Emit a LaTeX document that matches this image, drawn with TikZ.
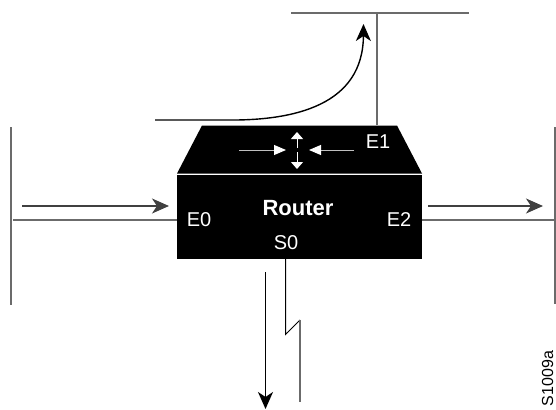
\documentclass[tikz,border=0pt]{standalone}
\usepackage{fontspec}
\setmainfont{Liberation Sans}
\usetikzlibrary{arrows.meta}
\definecolor{wire}{gray}{0.42}
\tikzset{
  wireline/.style={draw=wire,line width=1.5pt},
  flow/.style={draw=black!75,line width=1.4pt,-{Stealth[length=17pt,width=15pt,inset=5pt]}},
  whitearrow/.style={draw=white!75!black,line width=1pt,-{Triangle[length=12pt,width=10pt,color=white]}},
  whitetip/.style={draw=white,line width=1pt,-{Triangle[length=7pt,width=12pt,color=white]}},
  lab/.style={text=white,font=\fontsize{20}{21}\selectfont,inner sep=0pt},
}
\begin{document}
\begin{tikzpicture}[x=1pt,y=-1pt]
\useasboundingbox (0,0) rectangle (556,409);
% body
\node[fill=black,minimum width=245pt,minimum height=84pt,inner sep=0pt,anchor=north west] (router) at (177,175) {};
\fill[black] (202,125.5) -- (397,125.5) -- (422,173.5) -- (177,173.5) -- cycle;
% E1 bus
\coordinate (t1) at (291,13); \coordinate (t2) at (469,13);
\coordinate (t3) at (377,13); \coordinate (t4) at (377,125);
\draw[wireline] (t1) -- (t2);
\draw[wireline] (t3) -- (t4);
% E0 bus
\coordinate (l1) at (11,127); \coordinate (l2) at (11,305);
\coordinate (l3) at (13,220);
\draw[wireline] (l1) -- (l2);
\draw[wireline] (l3) -- (l3 -| router.west);
% E2 bus
\coordinate (r1) at (555,127); \coordinate (r2) at (555,304);
\coordinate (r3) at (555,220);
\draw[wireline] (r1) -- (r2);
\draw[wireline] (router.east |- r3) -- (r3);
% S0 serial line
\coordinate (s1) at (285.5,259); \coordinate (s2) at (285.5,334.5);
\coordinate (s3) at (300,320); \coordinate (s4) at (300,402);
\draw[black,line width=1pt] (s1) -- (s2) -- (s3);
\draw[wireline] (s3) -- (s4);
% flow arrows
\coordinate (a1) at (22,206); \coordinate (a2) at (169,206);
\coordinate (b1) at (428,206); \coordinate (b2) at (543,206);
\coordinate (c1) at (265.5,272); \coordinate (c2) at (265.5,409);
\draw[flow] (a1) -- (a2);
\draw[flow] (b1) -- (b2);
\draw[flow,draw=black] (c1) -- (c2);
\coordinate (d1) at (155,120); \coordinate (d2) at (363.5,24);
\draw[flow,draw=black] (d1) -- (225,120) .. controls (295,121) and (363,105) .. (d2);
% white arrows in router
\coordinate (w1) at (239,150); \coordinate (w2) at (286,150);
\coordinate (w3) at (354,150); \coordinate (w4) at (309,150);
\coordinate (w5) at (297,148); \coordinate (w6) at (297,132);
\coordinate (w7) at (297,152); \coordinate (w8) at (297,169);
\draw[whitearrow] (w1) -- (w2);
\draw[whitearrow] (w3) -- (w4);
\draw[whitetip] (w5) -- (w6);
\draw[whitetip] (w7) -- (w8);
% labels
\node[lab] (e1) at (378,142) {E1};
\node[lab,font=\fontsize{22}{23}\selectfont\bfseries] (rt) at (298,208) {Router};
\node[lab] (e0) at (199,220) {E0};
\node[lab] (e2) at (399,220) {E2};
\node[lab] (s0) at (286,243) {S0};
\node[rotate=90,font=\fontsize{16}{17}\selectfont,inner sep=0pt] (sid) at (547.5,378.5) {S1009a};
\end{tikzpicture}
\end{document}
